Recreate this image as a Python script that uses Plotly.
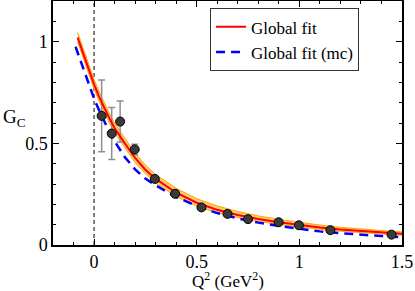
import plotly.graph_objects as go

# data points
q2_pts = [0.037, 0.086, 0.127, 0.198, 0.296, 0.395, 0.523, 0.650, 0.750, 0.899, 0.998, 1.151, 1.449]
gc_pts = [0.635, 0.548, 0.607, 0.470, 0.325, 0.252, 0.185, 0.153, 0.127, 0.112, 0.097, 0.073, 0.051]
gc_err = [0.177, 0.128, 0.101, 0.026, 0, 0, 0, 0, 0, 0, 0, 0, 0]

# global fit curve
q2_fit = [-0.08, -0.06, -0.04, -0.02, 0.0, 0.025, 0.05, 0.075, 0.1, 0.125, 0.15, 0.2, 0.25, 0.3,
          0.4, 0.5, 0.6, 0.7, 0.8, 0.9, 1.0, 1.1, 1.2, 1.3, 1.4, 1.5]
gc_fit = [1.02, 0.96, 0.90, 0.844, 0.79, 0.728, 0.672, 0.622, 0.575, 0.535, 0.50, 0.428, 0.37, 0.325,
          0.257, 0.208, 0.173, 0.148, 0.128, 0.112, 0.098, 0.086, 0.076, 0.068, 0.061, 0.055]
band_hi = [1.045, 0.985, 0.925, 0.869, 0.815, 0.753, 0.697, 0.647, 0.60, 0.56, 0.525, 0.452, 0.393, 0.347,
           0.279, 0.228, 0.192, 0.165, 0.143, 0.126, 0.111, 0.098, 0.087, 0.078, 0.071, 0.064]
band_lo = [0.998, 0.938, 0.878, 0.822, 0.768, 0.706, 0.65, 0.60, 0.553, 0.513, 0.478, 0.406, 0.35, 0.305,
           0.239, 0.191, 0.158, 0.135, 0.116, 0.101, 0.088, 0.077, 0.068, 0.06, 0.054, 0.048]

# global fit (mc)
q2_mc = [-0.09, -0.06, -0.04, -0.02, 0.0, 0.025, 0.05, 0.075, 0.1, 0.15, 0.2, 0.25, 0.3,
         0.4, 0.5, 0.6, 0.7, 0.8, 0.9, 1.0, 1.1, 1.2, 1.3, 1.4, 1.5]
gc_mc = [0.975, 0.89, 0.835, 0.775, 0.72, 0.662, 0.607, 0.555, 0.51, 0.432, 0.372, 0.327, 0.293,
         0.236, 0.192, 0.157, 0.131, 0.11, 0.093, 0.079, 0.067, 0.058, 0.05, 0.044, 0.038]

FONT = "Liberation Serif, serif"

fig = go.Figure()

# band
fig.add_trace(go.Scatter(x=q2_fit, y=band_lo, mode="lines", line=dict(color="#FFA500", width=1),
                         showlegend=False, hoverinfo="skip"))
fig.add_trace(go.Scatter(x=q2_fit, y=band_hi, mode="lines", line=dict(color="#FFA500", width=1),
                         fill="tonexty", fillcolor="#FFCC70", showlegend=False, hoverinfo="skip"))

# error bars (behind)
fig.add_trace(go.Scatter(x=q2_pts, y=gc_pts, mode="markers", marker=dict(size=1, color="rgba(0,0,0,0)"),
                         error_y=dict(type="data", array=gc_err, color="#8f8f8f", thickness=1.5, width=3.5),
                         showlegend=False, hoverinfo="skip"))

fig.add_trace(go.Scatter(x=q2_fit, y=gc_fit, mode="lines", name="Global fit",
                         line=dict(color="#FF0000", width=2)))
fig.add_trace(go.Scatter(x=q2_mc, y=gc_mc, mode="lines", name="Global fit (mc)",
                         line=dict(color="#0000FF", width=2.5, dash="9px,6px")))

fig.add_trace(go.Scatter(x=q2_pts, y=gc_pts, mode="markers", showlegend=False,
                         marker=dict(size=9, color="#3a3a3a", line=dict(color="#000000", width=1))))

# dashed vertical line at Q^2 = 0
fig.add_shape(type="line", x0=0, x1=0, y0=0, y1=1, xref="x", yref="paper",
              line=dict(color="black", width=1, dash="4px,3px"), layer="below")

axis_common = dict(showline=True, linecolor="black", linewidth=1.5, mirror="ticks",
                   ticks="inside", ticklen=6, tickwidth=1, tickcolor="black",
                   showgrid=False, zeroline=False, automargin=False,
                   tickfont=dict(family=FONT, size=18, color="black"),
                   minor=dict(ticks="inside", ticklen=3, tickwidth=1, tickcolor="black", dtick=0.1, showgrid=False))

fig.update_xaxes(range=[-0.2, 1.5], tickvals=[0, 0.5, 1, 1.5], ticktext=["0", "0.5", "1", "1.5"],
                 **axis_common)
fig.update_yaxes(range=[0, 1.2], tickvals=[0, 0.5, 1], ticktext=["0", "0.5", "1"], **axis_common)

fig.add_annotation(text="Q<sup>2</sup> (GeV<sup>2</sup>)", xref="paper", yref="paper", x=0.5, y=-0.143,
                   xanchor="center", yanchor="middle", showarrow=False,
                   font=dict(family=FONT, size=17, color="black"))
fig.add_annotation(text="G<sub>C</sub>", xref="paper", yref="paper", x=-0.15, y=0.52,
                   xanchor="left", yanchor="middle", showarrow=False,
                   font=dict(family=FONT, size=19, color="black"))

fig.update_layout(
    width=415, height=291,
    margin=dict(l=53, r=13, t=1, b=46, autoexpand=False),
    paper_bgcolor="white", plot_bgcolor="white",
    showlegend=True,
    legend=dict(x=0.45, y=0.97, xanchor="left", yanchor="top",
                bgcolor="white", bordercolor="#333333", borderwidth=1,
                font=dict(family=FONT, size=17, color="black"),
                tracegroupgap=0, itemwidth=30, traceorder="normal"),
)

fig.write_html("out.html", config={"displayModeBar": False},
               post_script="document.body.style.margin='0';")
